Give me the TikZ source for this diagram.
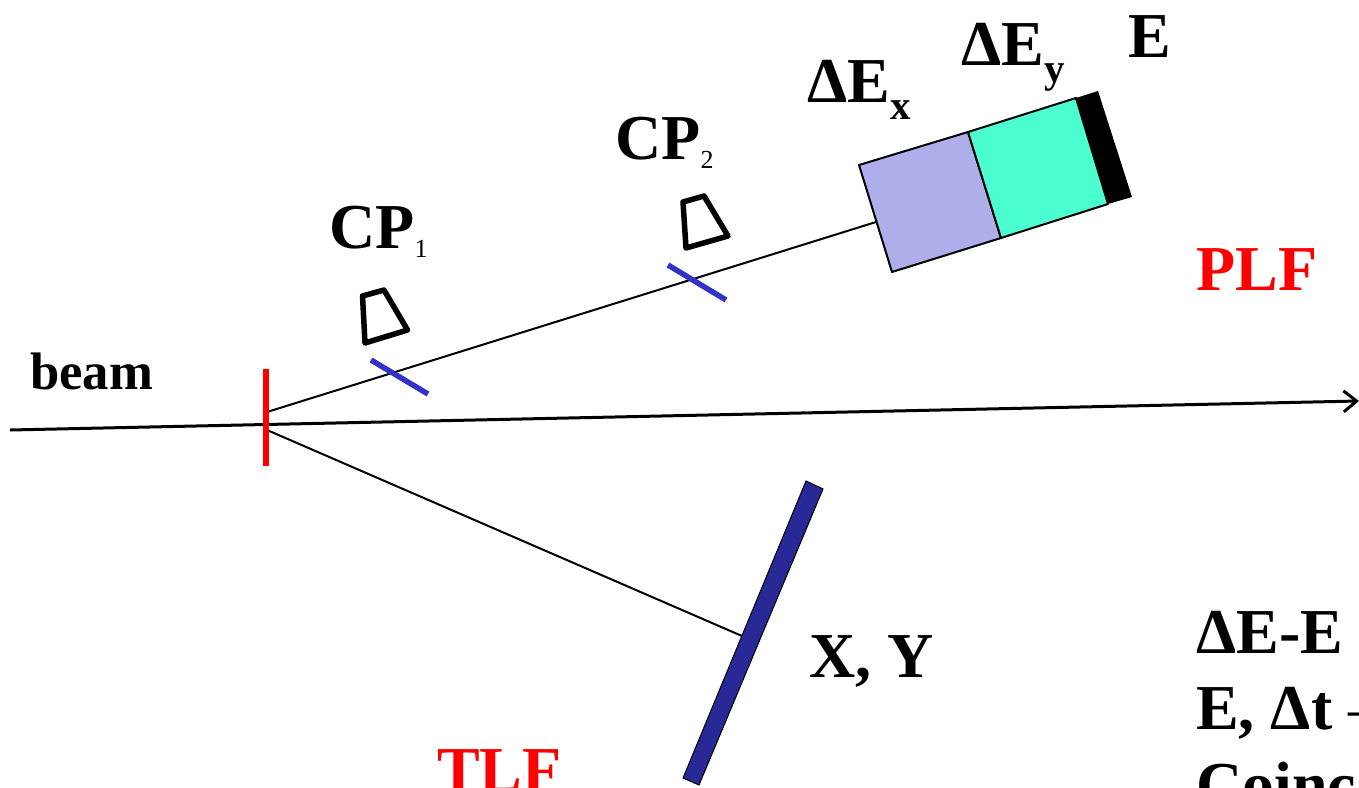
\documentclass[tikz,border=0pt]{standalone}
\usepackage{fontspec}
\setmainfont{Liberation Serif}
\usetikzlibrary{positioning,arrows.meta,calc}
\definecolor{pastelLavender}{RGB}{174,174,235}
\definecolor{pastelTurquoise}{RGB}{75,255,208}
\definecolor{foilBlue}{RGB}{50,50,200}
\definecolor{stripBlue}{RGB}{40,40,150}
\newcommand{\bigfont}{\fontsize{64}{70}\selectfont\bfseries}
\newcommand{\subb}[1]{\raisebox{-17pt}{\fontsize{41}{41}\selectfont\bfseries #1}}
\newcommand{\subn}[1]{\raisebox{-9pt}{\fontsize{26}{26}\selectfont\mdseries #1}}
\tikzset{
	label/.style={
		anchor=base west,
		inner sep=0pt,
		font=\bigfont,
	},
	redlabel/.style={
		label,
		text=red,
	},
	ray/.style={
		line width=2pt,
		draw=black,
	},
	beamline/.style={
		line width=3pt,
		draw=black,
		-{Straight Barb[length=13pt,width=21pt,line width=3pt]},
	},
	foil/.style={
		line width=5.5pt,
		draw=foilBlue,
	},
	pad/.style={
		line width=5.5pt,
		draw=black,
		line join=round,
	},
	stage/.style={
		line width=2pt,
		draw=black,
		line join=round,
	}
}

\begin{document}
\begin{tikzpicture}[x=1pt,y=-1pt]
	\useasboundingbox (0,0) rectangle (1359,787);
	\clip (0,0) rectangle (1359,787);
	% --- Anchor points ---
	\coordinate (beamstart) at (10,430);
	\coordinate (beamend) at (1359,401);
	\coordinate (plfstart) at (267,412);
	\coordinate (plfend) at (876,222);
	\coordinate (tlfstart) at (267,430);
	\coordinate (tlfend) at (742,636);
	
	% --- Rays ---
	\draw[beamline] (beamstart) -- (beamend);
	\draw[ray] (plfstart) -- (plfend);
	\draw[ray] (tlfstart) -- (tlfend);
	
	% --- Target and foils ---
	\draw[line width=6.5pt,red] (266,369) -- (266,466);
	\draw[foil] (371,360) -- (428,394);
	\draw[foil] (668,265) -- (726,300);
	\draw[pad] (362.5,296) -- (384,290) -- (407.5,330) -- (365,343) -- cycle;
	\draw[pad] (683,202) -- (704,196) -- (728,236) -- (686,248) -- cycle;
	
	% --- Telescope ---
	\draw[stage,fill=pastelLavender] (859,165) -- (968,132) -- (1001,238) -- (892,272) -- cycle;
	\draw[stage,fill=pastelTurquoise] (968,132) -- (1076,98) -- (1108,204) -- (1001,238) -- cycle;
	\fill[black] (1076,98) -- (1098,91) -- (1132,197) -- (1108,204) -- cycle;
	
	% --- Position detector ---
	\draw[line width=1pt,fill=stripBlue] (806,481) -- (823,489) -- (699,785) -- (683,778) -- cycle;
	
	% --- Labels ---
	\node[label,font=\fontsize{52.7}{60}\selectfont\bfseries] (beamlabel) at (30,389) {beam};
	\node[label] (cpone) at (329,248) {CP\subn{1}};
	\node[label] (cptwo) at (615,159) {CP\subn{2}};
	\node[label] (dex) at (807,102) {ΔE\subb{x}};
	\node[label] (dey) at (961,65) {ΔE\subb{y}};
	\node[label] (elabel) at (1128,57) {E};
	\node[redlabel] (plf) at (1196,290) {PLF};
	\node[redlabel] (tlf) at (437,791) {TLF};
	\node[label] (xy) at (809,677) {X, Y};
	\node[label] (dee) at (1196,653) {ΔE-E};
	\node[label] (edt) at (1196,729) {E, Δt {\mdseries –}};
	\node[label] (coinc) at (1196,806) {Coinc};
\end{tikzpicture}
\end{document}
